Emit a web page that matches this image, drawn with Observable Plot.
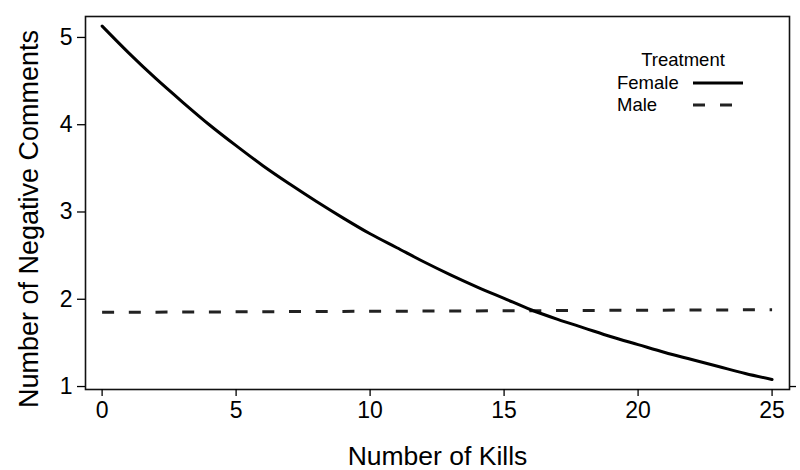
<!DOCTYPE html>
<html>
<head>
<meta charset="utf-8">
<script src="https://cdn.jsdelivr.net/npm/d3@7"></script>
<script src="https://cdn.jsdelivr.net/npm/@observablehq/plot@0.6"></script>
<style>
  html, body { margin: 0; padding: 0; background: #fff; }
  #chart { width: 800px; height: 470px; position: relative; }
</style>
</head>
<body>
<div id="chart"></div>
<script>
// ---- data ----
const kills = [0,1,2,3,4,5,6,7,8,9,10,11,12,13,14,15,16,17,18,19,20,21,22,23,24,25];
const femaleComments = [5.13,4.82,4.53,4.26,4.00,3.76,3.53,3.32,3.12,2.93,2.75,2.59,2.43,2.28,2.14,2.01,1.88,1.77,1.67,1.57,1.48,1.39,1.31,1.23,1.15,1.08];
const maleKills = [0, 25];
const maleComments = [1.85, 1.88];
const xTicks = [0, 5, 10, 15, 20, 25];
const yTicks = [1, 2, 3, 4, 5];
const treatments = ["Female", "Male"];
const legendTitle = "Treatment";
const xTitle = "Number of Kills";
const yTitle = "Number of Negative Comments";

const female = kills.map((k, i) => ({kills: k, comments: femaleComments[i], treatment: "Female"}));
const male = maleKills.map((k, i) => ({kills: k, comments: maleComments[i], treatment: "Male"}));

const FONT = "'Liberation Sans', Arial, Helvetica, sans-serif";

const plot = Plot.plot({
  width: 800,
  height: 470,
  marginLeft: 85,
  marginRight: 11,
  marginTop: 16,
  marginBottom: 81,
  style: {fontFamily: FONT, fontSize: "23px", background: "#fff", color: "#000"},
  x: {domain: [-0.62, 25.65]},
  y: {domain: [0.966, 5.24]},
  marks: [
    Plot.frame({stroke: "#111", strokeWidth: 1.6}),
    Plot.axisY({ticks: yTicks, tickFormat: d3.format("d"), tickSize: 8, tickPadding: 5, fontSize: 23, label: null, strokeWidth: 1.3}),
    Plot.axisY({anchor: "right", ticks: [1], tickSize: 6, tickFormat: () => "", label: null, strokeWidth: 1.3}),
    Plot.axisX({ticks: xTicks, tickFormat: d3.format("d"), tickSize: 7, tickPadding: 5, fontSize: 23, label: null, strokeWidth: 1.3}),
    Plot.line(male, {x: "kills", y: "comments", stroke: "#222", strokeWidth: 3, strokeDasharray: "12,14.7", strokeLinecap: "butt"}),
    Plot.line(female, {x: "kills", y: "comments", stroke: "#000", strokeWidth: 3, curve: "monotone-x"}),
    Plot.text([xTitle], {frameAnchor: "bottom", lineAnchor: "middle", textAnchor: "middle", dy: 67, fontSize: 26.5, fill: "#000"}),
    Plot.text([yTitle], {frameAnchor: "left", lineAnchor: "middle", textAnchor: "middle", rotate: -90, dx: -56, dy: 16, fontSize: 27, fill: "#000"})
  ]
});

document.getElementById("chart").appendChild(plot);

// ---- legend inside the panel ----
const svg = d3.select(plot);
const lg = svg.append("g").attr("font-family", FONT).attr("font-size", 18.5).attr("fill", "#000");
lg.append("text").attr("x", 683).attr("y", 60).attr("dy", "0.35em").attr("text-anchor", "middle").text(legendTitle);
treatments.forEach((t, i) => {
  const y = 83 + i * 22;
  lg.append("text").attr("x", 617).attr("y", y).attr("dy", "0.35em").attr("text-anchor", "start").text(t);
  lg.append("line")
    .attr("x1", 693).attr("x2", i === 0 ? 743 : 732)
    .attr("y1", y).attr("y2", y)
    .attr("stroke", i === 0 ? "#000" : "#222")
    .attr("stroke-width", 3)
    .attr("stroke-dasharray", i === 0 ? null : "12,15");
});
</script>
</body>
</html>
